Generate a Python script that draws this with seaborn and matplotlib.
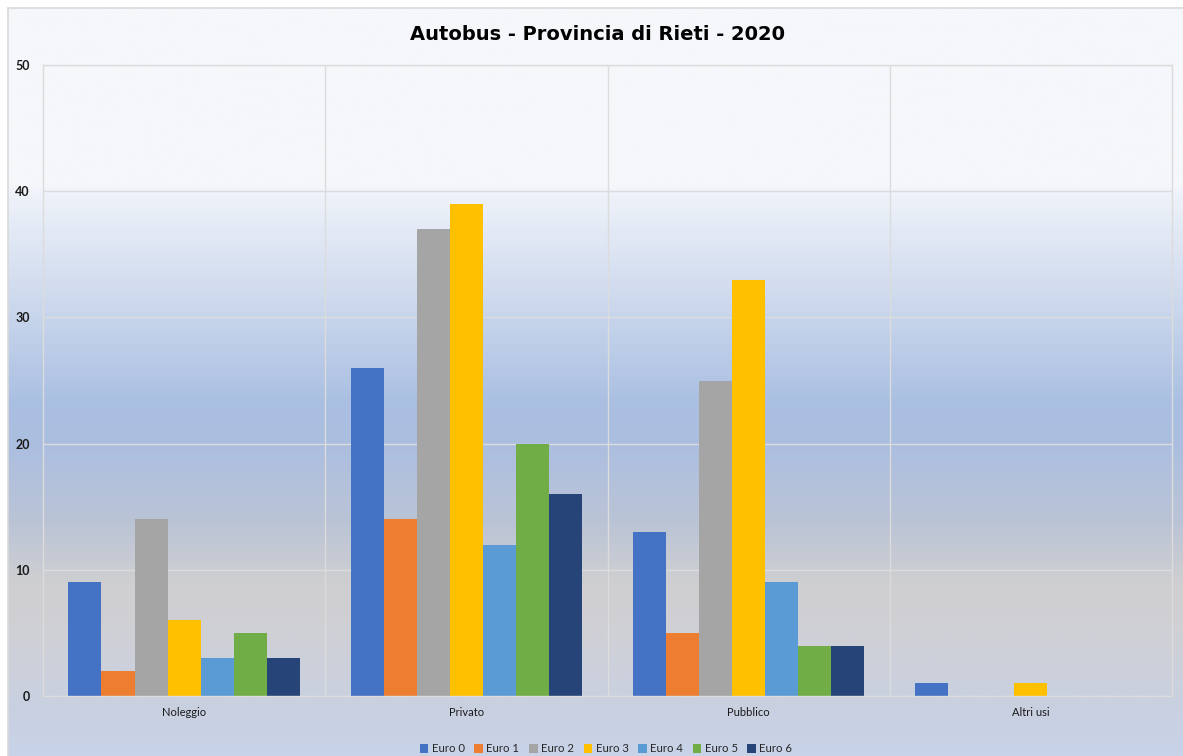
import numpy as np
import pandas as pd
import matplotlib
matplotlib.use("Agg")
import matplotlib.pyplot as plt
from matplotlib.colors import LinearSegmentedColormap
import seaborn as sns

# --- data -------------------------------------------------------------
categories = ["Noleggio", "Privato", "Pubblico", "Altri usi"]
classes = ["Euro 0", "Euro 1", "Euro 2", "Euro 3", "Euro 4", "Euro 5", "Euro 6"]
euro0 = [9, 26, 13, 1]
euro1 = [2, 14, 5, 0]
euro2 = [14, 37, 25, 0]
euro3 = [6, 39, 33, 1]
euro4 = [3, 12, 9, 0]
euro5 = [5, 20, 4, 0]
euro6 = [3, 16, 4, 0]
y_ticks = [0, 10, 20, 30, 40, 50]
title = "Autobus - Provincia di Rieti - 2020"

colors = ["#4472C4", "#ED7D31", "#A5A5A5", "#FFC000", "#5B9BD5", "#70AD47", "#264478"]

series = [euro0, euro1, euro2, euro3, euro4, euro5, euro6]
rows = []
for cls, vals in zip(classes, series):
    for cat, v in zip(categories, vals):
        rows.append({"Uso": cat, "Classe": cls, "Numero": v})
df = pd.DataFrame(rows)

# --- figure -----------------------------------------------------------
W, H = 1183, 756
sns.set_theme(style="white")
plt.rcParams["font.family"] = ["Lato", "DejaVu Sans"]

fig = plt.figure(figsize=(W / 100, H / 100), dpi=100)
fig.patch.set_facecolor("white")

# gradient backdrop of the chart area
bg = fig.add_axes([8 / W, 0, 1 - 8 / W, 1 - 8 / H], zorder=-10)
stops = [
    (0.00, "#f5f7fb"),
    (0.235, "#f5f7fb"),
    (0.245, "#eff3fa"),
    (0.38, "#d0dbee"),
    (0.53, "#a9bfe2"),
    (0.58, "#abbee0"),
    (0.69, "#bbc4d6"),
    (0.77, "#cfcfd1"),
    (0.82, "#d0d0d4"),
    (0.93, "#c9d0e0"),
    (1.00, "#c8d3e8"),
]
cmap = LinearSegmentedColormap.from_list("bgfade", stops)
grad = np.linspace(0, 1, 512).reshape(-1, 1)
bg.imshow(grad, aspect="auto", cmap=cmap, extent=[0, 1, 0, 1], origin="upper")
bg.set_xlim(0, 1)
bg.set_ylim(0, 1)
bg.axis("off")
bg.plot([0, 0], [0, 1], color="#d9d9d9", lw=1.2, clip_on=False)
bg.plot([0, 1], [1, 1], color="#d9d9d9", lw=1.2, clip_on=False)

# plotting area
left, right, top, bottom = 43, 1172, 65, 696
ax = fig.add_axes([left / W, 1 - bottom / H, (right - left) / W, (bottom - top) / H])
ax.set_facecolor("none")

sns.barplot(data=df, x="Uso", y="Numero", hue="Classe", hue_order=classes,
            order=categories, palette=colors, width=0.82, saturation=1,
            edgecolor="none", linewidth=0, ax=ax, legend=True)

ax.set_xlim(-0.5, len(categories) - 0.5)
ax.set_ylim(0, 50)
ax.set_yticks(y_ticks)
ax.set_xticks(np.arange(len(categories)))
ax.set_xticks(np.arange(len(categories) - 1) + 0.5, minor=True)
ax.set_xticklabels(categories, fontsize=8, color="#1a1a1a")
ax.set_yticklabels([str(t) for t in y_ticks], fontsize=9, color="#1a1a1a",
                   fontweight="bold")
ax.tick_params(axis="x", which="both", length=0, pad=8)
ax.tick_params(axis="y", length=0, pad=9.5)
ax.set_xlabel("")
ax.set_ylabel("")

ax.grid(axis="y", which="major", color="#dcdcdc", lw=1.0)
ax.grid(axis="x", which="minor", color="#dcdcdc", lw=1.0)
ax.grid(axis="x", which="major", visible=False)
ax.set_axisbelow(True)
for side in ["left", "right", "top", "bottom"]:
    ax.spines[side].set_visible(True)
    ax.spines[side].set_color("#dcdcdc")
    ax.spines[side].set_linewidth(1.0)

# legend under the chart
handles, labels = ax.get_legend_handles_labels()
ax.get_legend().remove()
fig.legend(handles, labels, loc="center", bbox_to_anchor=(606 / W, 1 - 749 / H),
           ncol=7, frameon=False, fontsize=8.2, handlelength=0.75,
           handleheight=0.75, handletextpad=0.3, columnspacing=0.85)

fig.text(598 / W, 1 - 34 / H, title, ha="center", va="center",
         fontsize=14, fontweight="bold", color="black",
         family=["DejaVu Sans"])

fig.savefig("out.png", dpi=100)
